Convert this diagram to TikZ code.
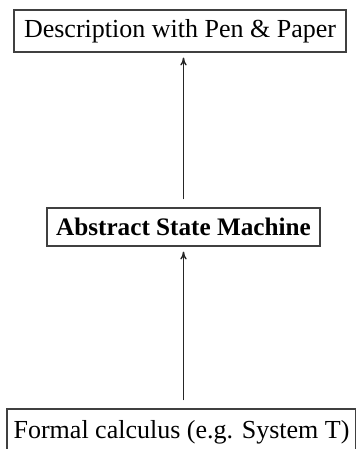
\documentclass[tikz,border=0pt]{standalone}
\usepackage{fontspec}
\setmainfont{Liberation Serif}
\usetikzlibrary{arrows.meta}
\begin{document}
\begin{tikzpicture}[x=0.5pt,y=-0.5pt,
  box/.style={draw=black!75,line width=0.55pt,inner sep=0pt,anchor=center,
    font=\fontsize{13}{15}\selectfont},
  up/.style={draw=black!85,line width=0.7pt,-{To[length=4pt,width=3.2pt]},
    shorten >=2.5pt,shorten <=4pt}]
  \useasboundingbox (0,0) rectangle (355,449);
  % the three levels, bottom box runs past the page edge
  \node[box,minimum width=166pt,minimum height=21pt] (pen) at (180,31)
    {Description with Pen \& Paper};
  \node[box,minimum width=136.5pt,minimum height=19pt,font=\fontsize{12.6}{14}\selectfont\bfseries] (asm) at (183.5,227)
    {Abstract State Machine};
  \node[box,minimum width=174.5pt,minimum height=23pt] (calc) at (181.5,432)
    {Formal calculus (e.g. System T)};
  % refinement arrows
  \draw[up] (calc.north -| asm.south) -- (asm.south);
  \draw[up] (asm.north) -- (asm.north |- pen.south);
\end{tikzpicture}
\end{document}
